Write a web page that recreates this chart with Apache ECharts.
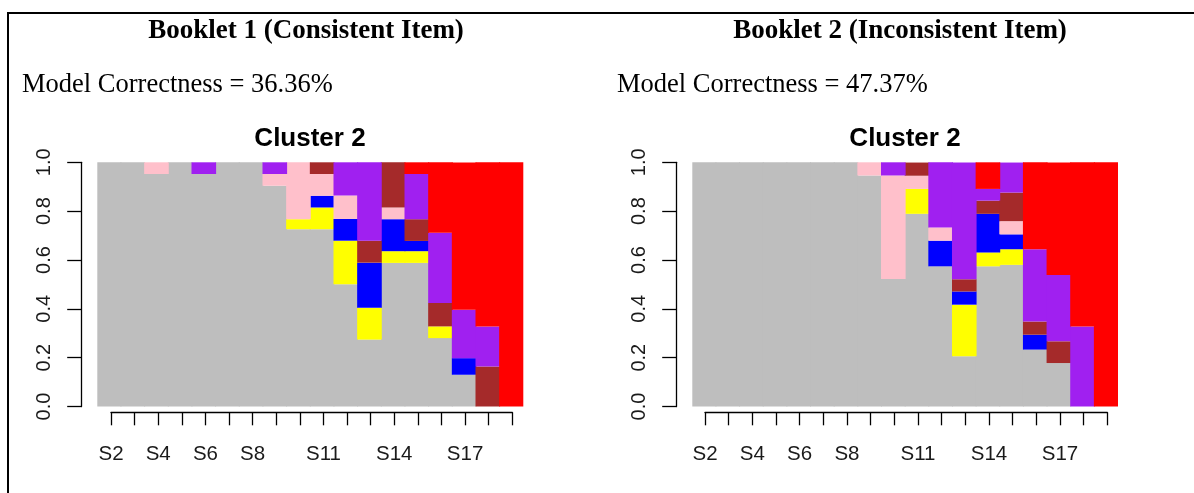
<!DOCTYPE html>
<html>
<head>
<meta charset="utf-8">
<script src="https://cdn.jsdelivr.net/npm/echarts@6/dist/echarts.min.js"></script>
<style>
  html, body { margin: 0; padding: 0; background: #fff; }
  #chart { width: 1194px; height: 493px; position: absolute; left: 0; top: 0; }
  #frame { position: absolute; left: 7px; top: 12px; width: 1200px; height: 500px;
           border-top: 2px solid #000; border-left: 2px solid #000; pointer-events: none; }
</style>
</head>
<body>
<div id="chart"></div>
<div id="frame"></div>
<script>
// ---- categories and tick labels ----
const categories = ['S2','S3','S4','S5','S6','S7','S8','S9','S10','S11','S12','S13','S14','S15','S16','S17','S18','S19'];
const shownTickLabels = ['S2','S4','S6','S8','S11','S14','S17'];
const yTicks = [0, 0.2, 0.4, 0.6, 0.8, 1.0];

// ---- Booklet 1 (Consistent Item), Cluster 2: proportions per student ----
const b1Gray   = [1, 1, 0.952, 1, 0.952, 1, 1, 0.904, 0.726, 0.726, 0.501, 0.274, 0.588, 0.588, 0.280, 0.130, 0, 0];
const b1Yellow = [0, 0, 0, 0, 0, 0, 0, 0, 0.041, 0.089, 0.178, 0.130, 0.048, 0.048, 0.048, 0, 0, 0];
const b1Blue   = [0, 0, 0, 0, 0, 0, 0, 0, 0, 0.048, 0.089, 0.185, 0.131, 0.042, 0, 0.068, 0, 0];
const b1Pink   = [0, 0, 0.048, 0, 0, 0, 0, 0.048, 0.233, 0.089, 0.096, 0, 0.048, 0, 0, 0, 0, 0];
const b1Brown  = [0, 0, 0, 0, 0, 0, 0, 0, 0, 0.048, 0, 0.090, 0.185, 0.089, 0.096, 0, 0.164, 0];
const b1Purple = [0, 0, 0, 0, 0.048, 0, 0, 0.048, 0, 0, 0.137, 0.321, 0, 0.185, 0.287, 0.198, 0.164, 0];
const b1Red    = [0, 0, 0, 0, 0, 0, 0, 0, 0, 0, 0, 0, 0, 0.048, 0.289, 0.603, 0.672, 1];

// ---- Booklet 2 (Inconsistent Item), Cluster 2 ----
const b2Gray   = [1, 1, 1, 1, 1, 1, 1, 0.946, 0.522, 0.789, 0.574, 0.206, 0.574, 0.580, 0.233, 0.178, 0, 0];
const b2Yellow = [0, 0, 0, 0, 0, 0, 0, 0, 0, 0.102, 0, 0.211, 0.057, 0.064, 0, 0, 0, 0];
const b2Blue   = [0, 0, 0, 0, 0, 0, 0, 0, 0, 0, 0.105, 0.054, 0.158, 0.061, 0.061, 0, 0, 0];
const b2Pink   = [0, 0, 0, 0, 0, 0, 0, 0.054, 0.424, 0.054, 0.054, 0, 0, 0.054, 0, 0, 0, 0];
const b2Brown  = [0, 0, 0, 0, 0, 0, 0, 0, 0, 0.054, 0, 0.050, 0.054, 0.117, 0.054, 0.089, 0, 0];
const b2Purple = [0, 0, 0, 0, 0, 0, 0, 0, 0.054, 0, 0.267, 0.478, 0.048, 0.123, 0.296, 0.272, 0.328, 0];
const b2Red    = [0, 0, 0, 0, 0, 0, 0, 0, 0, 0, 0, 0, 0.109, 0, 0.356, 0.460, 0.672, 1];

// ---- texts ----
const header1 = 'Booklet 1 (Consistent Item)';
const header2 = 'Booklet 2 (Inconsistent Item)';
const correct1 = 'Model Correctness = 36.36%';
const correct2 = 'Model Correctness = 47.37%';
const panelTitle = 'Cluster 2';

const colors = {
  gray: '#BEBEBE', yellow: '#FFFF00', blue: '#0000FF', pink: '#FFC0CB',
  brown: '#A52A2A', purple: '#A020F0', red: '#FF0000'
};

const booklet1 = [['gray', b1Gray], ['yellow', b1Yellow], ['blue', b1Blue], ['pink', b1Pink],
                  ['brown', b1Brown], ['purple', b1Purple], ['red', b1Red]];
const booklet2 = [['gray', b2Gray], ['yellow', b2Yellow], ['blue', b2Blue], ['pink', b2Pink],
                  ['brown', b2Brown], ['purple', b2Purple], ['red', b2Red]];

const chart = echarts.init(document.getElementById('chart'), null, { renderer: 'canvas' });

const sansFont = '"Liberation Sans", Arial, sans-serif';
const serifFont = '"Liberation Serif", "Times New Roman", serif';

const panels = [
  { barLeft: 97.3, barWidth: 426, tickLeft: 111, tickWidth: 401.3, data: booklet1 },
  { barLeft: 692.3, barWidth: 425.7, tickLeft: 705, tickWidth: 402.3, data: booklet2 }
];
const barTop = 162.3, barHeight = 244.2;

const grid = [], xAxis = [], yAxis = [], series = [];
panels.forEach((p, i) => {
  const gBar = grid.length;
  grid.push({ left: p.barLeft, top: barTop, width: p.barWidth, height: barHeight, outerBoundsMode: 'none', containLabel: false });
  const gTick = grid.length;
  grid.push({ left: p.tickLeft, top: 411.3, width: p.tickWidth, height: 1, outerBoundsMode: 'none', containLabel: false });

  xAxis.push({ gridIndex: gBar, type: 'category', data: categories, show: false, boundaryGap: true });
  yAxis.push({
    gridIndex: gBar, type: 'value', min: 0, max: 1, interval: 0.2, offset: 15.6,
    splitLine: { show: false },
    axisLine: { show: true, lineStyle: { color: '#000', width: 1.3 } },
    axisTick: { show: true, length: 14.5, lineStyle: { color: '#000', width: 1.3 } },
    axisLabel: {
      rotate: 90, margin: 27, color: '#1a1a1a', fontFamily: sansFont, fontSize: 20,
      formatter: v => yTicks.indexOf(Math.round(v * 10) / 10) >= 0 ? v.toFixed(1) : ''
    }
  });

  xAxis.push({
    gridIndex: gTick, type: 'category', data: categories, boundaryGap: false, position: 'bottom',
    axisLine: { show: true, lineStyle: { color: '#000', width: 1.3 } },
    axisTick: { show: true, interval: 0, length: 13, lineStyle: { color: '#000', width: 1.3 } },
    axisLabel: {
      interval: (idx, val) => shownTickLabels.indexOf(val) >= 0,
      margin: 32, color: '#1a1a1a', fontFamily: sansFont, fontSize: 20.5
    },
    splitLine: { show: false }
  });
  yAxis.push({ gridIndex: gTick, type: 'value', show: false });

  p.data.forEach(([name, vals]) => {
    series.push({
      type: 'bar', name: name + i, xAxisIndex: gBar, yAxisIndex: gBar,
      stack: 'stack' + i, data: vals.map(v => (v === 0 ? null : v)),
      barWidth: '104%', barGap: '-100%',
      itemStyle: { color: colors[name], borderWidth: 0 },
      silent: true, animation: false
    });
  });
});

const textEl = (text, x, y, font, size, weight, align) => ({
  type: 'text', x: x, y: y, silent: true,
  style: { text: text, fontFamily: font, fontSize: size, fontWeight: weight, fill: '#000',
           textAlign: align, textVerticalAlign: 'middle' }
});

chart.setOption({
  animation: false,
  backgroundColor: '#fff',
  grid: grid, xAxis: xAxis, yAxis: yAxis, series: series,
  graphic: [
    textEl(header1, 306, 31, serifFont, 27, 'bold', 'center'),
    textEl(header2, 900, 31, serifFont, 27, 'bold', 'center'),
    textEl(correct1, 22, 85, serifFont, 26.5, 'normal', 'left'),
    textEl(correct2, 617, 85, serifFont, 26.5, 'normal', 'left'),
    textEl(panelTitle, 310, 139, sansFont, 26, 'bold', 'center'),
    textEl(panelTitle, 905, 139, sansFont, 26, 'bold', 'center')
  ]
});
</script>
</body>
</html>
